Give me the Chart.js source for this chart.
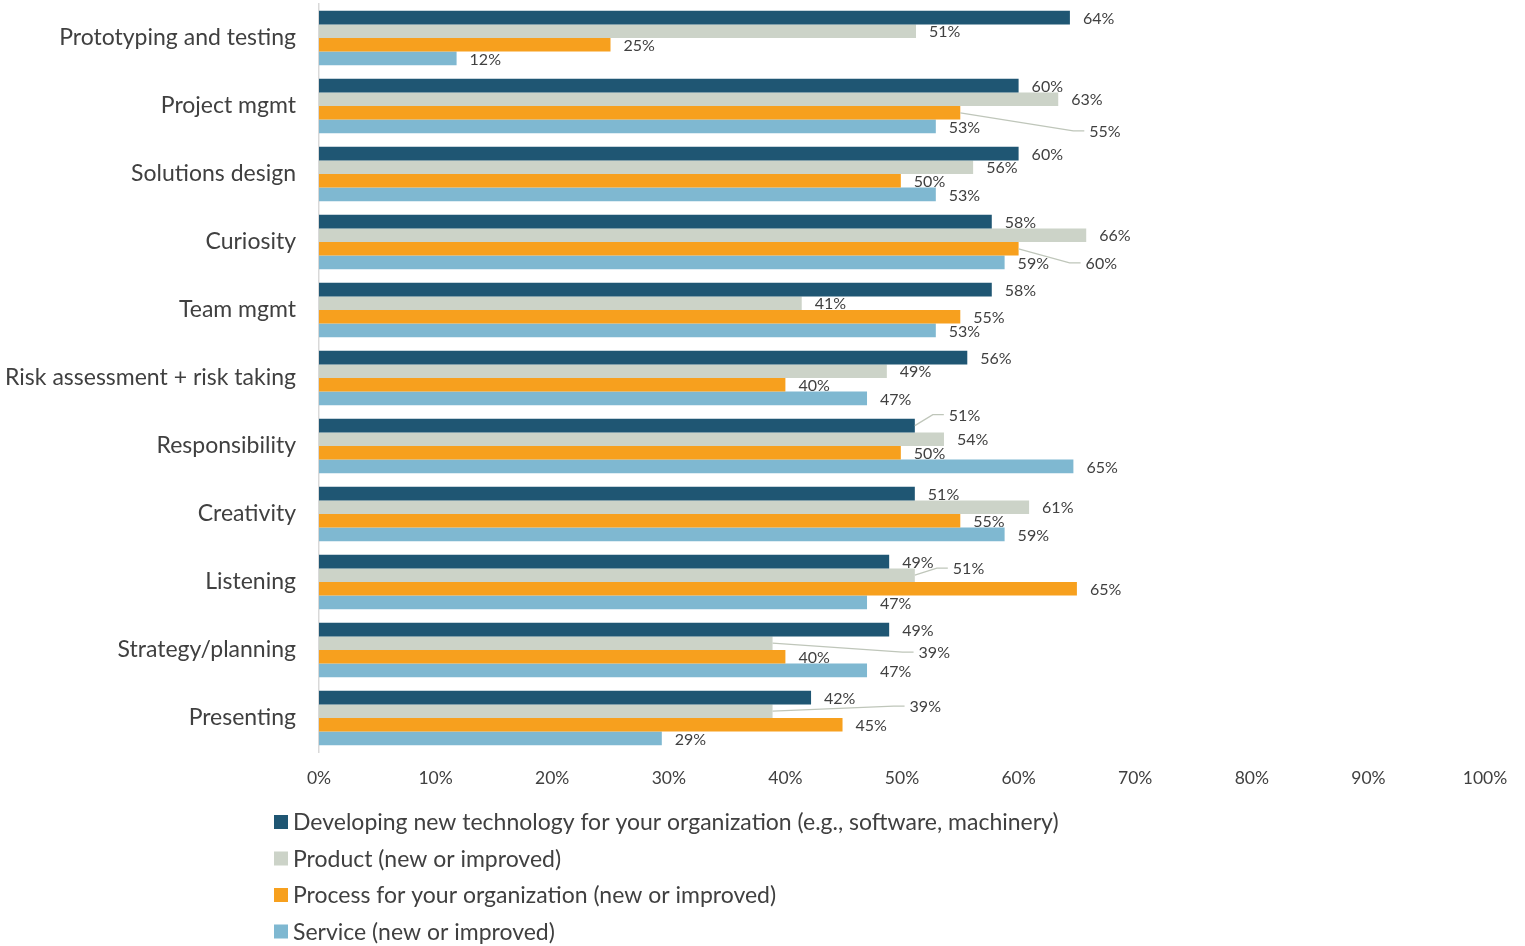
<!DOCTYPE html>
<html><head><meta charset="utf-8">
<script src="https://cdn.jsdelivr.net/npm/chart.js@4/dist/chart.umd.min.js"></script>
<style>html,body{margin:0;padding:0;background:#fff;overflow:hidden}</style>
</head><body>
<canvas id="c" width="1525" height="946"></canvas>
<script>
const categories = ['Prototyping and testing','Project mgmt','Solutions design','Curiosity','Team mgmt','Risk assessment + risk taking','Responsibility','Creativity','Listening','Strategy/planning','Presenting'];
const seriesNames = ['Developing new technology for your organization (e.g., software, machinery)','Product (new or improved)','Process for your organization (new or improved)','Service (new or improved)'];
const devTech = [64.4, 60.0, 60.0, 57.7, 57.7, 55.6, 51.1, 51.1, 48.9, 48.9, 42.2];
const product = [51.2, 63.4, 56.1, 65.8, 41.4, 48.7, 53.6, 60.9, 51.1, 38.9, 38.9];
const process = [25.0, 55.0, 49.9, 60.0, 55.0, 40.0, 49.9, 55.0, 65.0, 40.0, 44.9];
const service = [11.8, 52.9, 52.9, 58.8, 52.9, 47.0, 64.7, 58.8, 47.0, 47.0, 29.4];
const xTicks = [0, 10, 20, 30, 40, 50, 60, 70, 80, 90, 100];

const FONT = 'Lato, "Open Sans", sans-serif';
const TEXT = '#404040';
const colors = ['#1F5673', '#CCD3C8', '#F7A01E', '#7FB8D1'];

// labels moved away from their bar (with a leader line): dataset, category, shift in px
const labelMoves = [
  {ds: 2, i: 1, dx: 116, dy: 18},
  {ds: 2, i: 3, dx: 54, dy: 14},
  {ds: 0, i: 6, dx: 21, dy: -11},
  {ds: 1, i: 8, dx: 25, dy: -7},
  {ds: 1, i: 9, dx: 133, dy: 9},
  {ds: 1, i: 10, dx: 124, dy: -5}
];

const valueLabels = {
  id: 'valueLabels',
  afterDatasetsDraw(chart) {
    const ctx = chart.ctx;
    ctx.save();
    ctx.font = '16px ' + FONT;
    ctx.textBaseline = 'middle';
    ctx.textAlign = 'left';
    chart.data.datasets.forEach((ds, di) => {
      const meta = chart.getDatasetMeta(di);
      meta.data.forEach((bar, i) => {
        const mv = labelMoves.find(m => m.ds === di && m.i === i);
        let x = bar.x + 13, y = bar.y;
        if (mv) {
          x += mv.dx; y += mv.dy;
          ctx.strokeStyle = '#BFC6BA';
          ctx.lineWidth = 1.3;
          ctx.beginPath();
          ctx.moveTo(bar.x, bar.y);
          ctx.lineTo(x - 16, y);
          ctx.lineTo(x - 5, y);
          ctx.stroke();
        }
        ctx.fillStyle = TEXT;
        ctx.fillText(Math.round(ds.data[i]) + '%', x, y + 1);
      });
    });
    ctx.restore();
  }
};

const bottomLegend = {
  id: 'bottomLegend',
  afterDraw(chart) {
    const ctx = chart.ctx;
    ctx.save();
    ctx.font = '23px ' + FONT;
    ctx.textBaseline = 'middle';
    ctx.textAlign = 'left';
    chart.data.datasets.forEach((ds, k) => {
      const cy = 822 + k * 36.5;
      ctx.fillStyle = ds.backgroundColor;
      ctx.fillRect(274, cy - 7, 14, 14);
      ctx.fillStyle = TEXT;
      ctx.fillText(ds.label, 293, cy + 1);
    });
    ctx.restore();
  }
};

const seriesData = [devTech, product, process, service];
new Chart(document.getElementById('c'), {
  type: 'bar',
  data: {
    labels: categories,
    datasets: seriesData.map((d, k) => ({
      label: seriesNames[k],
      data: d,
      backgroundColor: colors[k],
      borderWidth: 0,
      categoryPercentage: 0.8,
      barPercentage: 1.0
    }))
  },
  options: {
    indexAxis: 'y',
    responsive: false,
    animation: false,
    devicePixelRatio: 1,
    layout: {padding: {top: 4, right: 40, bottom: 146, left: 0}},
    plugins: {legend: {display: false}, tooltip: {enabled: false}},
    scales: {
      x: {
        min: 0, max: 100,
        afterBuildTicks(s) { s.ticks = xTicks.map(v => ({value: v})); },
        afterFit(s) { s.height = 48; s.paddingTop = 0; s.paddingBottom = 0; },
        ticks: {callback: v => v + '%', font: {family: FONT, size: 17.5}, color: TEXT, padding: 16, maxRotation: 0},
        grid: {display: false, drawTicks: false},
        border: {display: false}
      },
      y: {
        afterFit(s) { s.width = 319; s.paddingTop = 0; s.paddingBottom = 0; },
        ticks: {font: {family: FONT, size: 23}, color: TEXT, padding: 23},
        grid: {display: false, drawTicks: false},
        border: {display: true, color: '#D9D9D9', width: 1.5}
      }
    }
  },
  plugins: [valueLabels, bottomLegend]
});
</script>
</body></html>
